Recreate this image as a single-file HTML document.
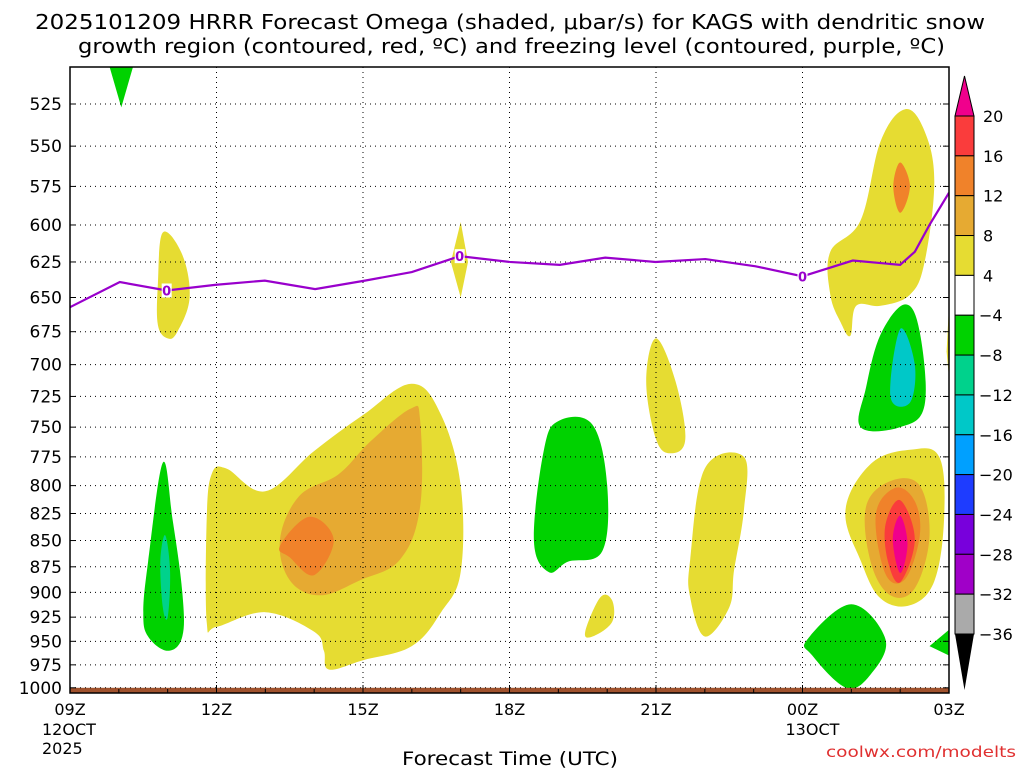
<!DOCTYPE html>
<html><head><meta charset="utf-8"><style>
body{margin:0;background:#fff;}
svg{display:block;font-family:"DejaVu Sans","Liberation Sans",sans-serif;}
</style></head><body>
<svg id="c" width="1024" height="768" xmlns="http://www.w3.org/2000/svg">
<text x="35" y="29" font-size="20" textLength="950" lengthAdjust="spacingAndGlyphs">2025101209 HRRR Forecast Omega (shaded, μbar/s) for KAGS with dendritic snow</text>
<text x="78" y="53" font-size="20" textLength="867" lengthAdjust="spacingAndGlyphs">growth region (contoured, red, ºC) and freezing level (contoured, purple, ºC)</text>
<g id="shade"></g>
<g id="grid"></g>
<g id="frz"></g>
<g id="axes"></g>
<g id="cbar"></g>
<text x="402" y="765" font-size="19" textLength="216" lengthAdjust="spacingAndGlyphs">Forecast Time (UTC)</text>
<text x="826" y="757" font-size="15" fill="#e03030" textLength="190" lengthAdjust="spacingAndGlyphs">coolwx.com/modelts</text>
</svg>
<script>
const pLevels=[525,550,575,600,625,650,675,700,725,750,775,800,825,850,875,900,925,950,975,1000];
const xTickHours=[9,12,15,18,21,24,27];
const xTickLabels=["09Z","12Z","15Z","18Z","21Z","00Z","03Z"];
const cbLevels=[20,16,12,8,4,-4,-8,-12,-16,-20,-24,-28,-32,-36];
const cbColors=["#fa3c3c","#f0822a","#e6aa32","#e6dc32","#ffffff","#00d200","#00d28c","#00c8c8","#00a0ff","#1e3cff","#7800dc","#a000c8","#aaaaaa"];
const Y="#e6dc32",G="#e6aa32",O="#f0822a",R="#fa3c3c",M="#f0008c",GR="#00d200",T="#00d28c",C="#00c8c8";
const polyColors=[GR,Y,Y,G,O,GR,T,Y,GR,Y,Y,Y,Y,O,GR,C,Y,G,O,R,M,GR,GR,Y];
const polySmooth=[0,1,1,1,1,1,1,0,1,1,1,1,1,1,1,1,1,1,1,1,1,1,0,0];
const polyData=[
[[9.8,503],[10.3,503],[10.05,527]],
[[10.8,640],[10.9,605],[11.3,620],[11.45,650],[11.2,675],[11.0,680],[10.8,670]],
[[11.8,930],[11.8,830],[11.9,790],[12.2,785],[13,805],[14,770],[15,740],[16.0,715],[16.6,740],[17.0,800],[17.0,880],[16.6,920],[16,955],[15,970],[14.3,980],[14.2,960],[14,940],[13.0,920],[12,935]],
[[13.3,849],[13.7,809],[14.5,790],[15.15,762],[15.97,735],[16.17,744],[16.17,819],[15.76,868],[14.94,888],[14.12,903],[13.5,888]],
[[13.3,855],[13.9,828],[14.4,849],[14.0,883],[13.5,866]],
[[10.5,920],[10.6,870],[10.9,780],[11.1,830],[11.3,900],[11.3,945],[11.0,960],[10.6,945]],
[[10.85,870],[10.95,845],[11.05,880],[11.0,925],[10.9,915]],
[[17.0,598],[17.15,625],[17.0,650],[16.8,625]],
[[18.5,850],[18.7,770],[19.0,745],[19.7,748],[20.0,800],[19.9,860],[19.2,870],[18.8,880]],
[[19.55,940],[19.86,905],[20.1,908],[20.1,930],[19.7,945]],
[[20.8,713],[21.0,680],[21.4,713],[21.6,760],[21.3,772],[21.0,760]],
[[21.7,905],[21.7,868],[22.0,785],[22.8,775],[22.8,822],[22.6,878],[22.5,915],[22.0,945]],
[[24.57,618],[25.19,597],[25.6,547],[26.1,528],[26.5,541],[26.7,572],[26.5,625],[26.2,648],[25.6,656],[25.1,656],[24.98,678],[24.78,668],[24.57,648]],
[[25.86,575],[26.0,560],[26.2,575],[26.0,592]],
[[25.19,750],[25.3,718],[25.6,677],[26.1,655],[26.4,675],[26.5,732],[26.0,750]],
[[25.8,725],[26.0,673],[26.3,700],[26.2,730]],
[[24.88,822],[25.4,781],[26.2,769],[26.8,775],[26.9,829],[26.7,889],[26.2,913],[25.6,906],[25.2,870]],
[[25.3,819],[25.8,796],[26.4,800],[26.6,846],[26.3,896],[25.8,903],[25.4,871]],
[[25.5,826],[25.9,802],[26.3,814],[26.4,846],[26.1,887],[25.7,882]],
[[25.7,835],[26.0,813],[26.3,849],[26.0,890],[25.75,870]],
[[25.85,849],[26.0,827],[26.15,853],[26.0,881]],
[[24.1,948],[25.0,912],[25.7,948],[25.4,985],[24.9,1000],[24.2,965]],
[[26.6,955],[27,938],[27,965]],
[[26.95,690],[27,656],[27,710]]
];
const frzHours=[9,10.02,10.98,11.97,12.99,14.02,15.04,16.0,16.98,18.0,19.03,19.96,20.99,22.01,23.04,24.0,25.03,26.0,26.3,26.6,27.0];
const frzP=[657,639,645,641,638,644,638,632,621,625,627,622,625,623,628,635,624,627,618,600,579];
const frzLabelIdx=[2,8,15];
const X0=70,X1=949,TOP=67,BOT=693;
function xs(h){return X0+(h-9)*(X1-X0)/18;}
function ys(p){return 104+906*Math.log(p/525);}
const NS="http://www.w3.org/2000/svg";
function mk(t,a,parent){const e=document.createElementNS(NS,t);for(const k in a)e.setAttribute(k,a[k]);parent.appendChild(e);return e;}
function smoothPath(pts){
  const n=pts.length;let d='M'+pts[0][0].toFixed(1)+','+pts[0][1].toFixed(1);
  const k=0.18;
  for(let i=0;i<n;i++){
    const p0=pts[(i-1+n)%n],p1=pts[i],p2=pts[(i+1)%n],p3=pts[(i+2)%n];
    const c1x=p1[0]+(p2[0]-p0[0])*k,c1y=p1[1]+(p2[1]-p0[1])*k;
    const c2x=p2[0]-(p3[0]-p1[0])*k,c2y=p2[1]-(p3[1]-p1[1])*k;
    d+=` C${c1x.toFixed(1)},${c1y.toFixed(1)} ${c2x.toFixed(1)},${c2y.toFixed(1)} ${p2[0].toFixed(1)},${p2[1].toFixed(1)}`;
  }
  return d+'Z';
}
const svg=document.getElementById('c');
const cp=mk('clipPath',{id:'clip'},svg);mk('rect',{x:X0,y:TOP,width:X1-X0,height:BOT-TOP},cp);
const shade=document.getElementById('shade');shade.setAttribute('clip-path','url(#clip)');
polyData.forEach((poly,i)=>{
  const pts=poly.map(q=>[xs(q[0]),ys(q[1])]);
  const d=polySmooth[i]?smoothPath(pts):'M'+pts.map(p=>p[0].toFixed(1)+','+p[1].toFixed(1)).join(' L')+'Z';
  const e=mk('path',{d:d,fill:polyColors[i]},shade);
  
  
});
const g=mk('rect',{x:X0,y:ys(1000),width:X1-X0,height:BOT-ys(1000),fill:'#a0522d'},shade);


const grid=document.getElementById('grid');
pLevels.forEach(p=>{mk('line',{x1:X0,x2:X1,y1:ys(p),y2:ys(p),stroke:'#000','stroke-width':1,'stroke-dasharray':'1 4'},grid);});
xTickHours.slice(1,-1).forEach(h=>{mk('line',{x1:xs(h),x2:xs(h),y1:TOP,y2:BOT,stroke:'#000','stroke-width':1,'stroke-dasharray':'1 4'},grid);});
const frz=document.getElementById('frz');frz.setAttribute('clip-path','url(#clip)');
const fl=mk('polyline',{points:frzHours.map((h,i)=>xs(h)+','+ys(frzP[i])).join(' '),fill:'none',stroke:'#9900cc','stroke-width':2.2},frz);


frzLabelIdx.forEach(i=>{
  mk('rect',{x:xs(frzHours[i])-5,y:ys(frzP[i])-7,width:10,height:14,fill:'#fff'},frz);
  const t=mk('text',{x:xs(frzHours[i]),y:ys(frzP[i])+5,'font-size':13,'font-weight':'bold',fill:'#9900cc','text-anchor':'middle'},frz);
  t.textContent='0';
  
  
});
const ax=document.getElementById('axes');
mk('rect',{x:X0,y:TOP,width:X1-X0,height:BOT-TOP,fill:'none',stroke:'#000','stroke-width':1.5},ax);
pLevels.forEach(p=>{
  mk('line',{x1:X0,x2:X0+6,y1:ys(p),y2:ys(p),stroke:'#000'},ax);
  mk('line',{x1:X1-6,x2:X1,y1:ys(p),y2:ys(p),stroke:'#000'},ax);
  const t=mk('text',{x:62,y:ys(p)+6,'font-size':17,'text-anchor':'end'},ax);t.textContent=p;
  
  
});
for(let h=9;h<=27;h++){mk('line',{x1:xs(h),x2:xs(h),y1:BOT-(h%3?4:8),y2:BOT,stroke:'#000'},ax);}
xTickHours.forEach((h,i)=>{
  const t=mk('text',{x:xs(h),y:715,'font-size':16,'text-anchor':'middle'},ax);t.textContent=xTickLabels[i];
  
  
});
[["12OCT",X0-28,735],["2025",X0-28,754],["13OCT",xs(24)-17,735]].forEach(a=>{
  const t=mk('text',{x:a[1],y:a[2],'font-size':16},ax);t.textContent=a[0];
  
  
});
const cb=document.getElementById('cbar');
const CX=955,CW=19,cb0=116,cbStep=(634-116)/13;
mk('polygon',{points:`${CX},${cb0} ${CX+CW},${cb0} ${CX+CW/2},76`,fill:M,stroke:'#000'},cb);
cbColors.forEach((c,i)=>{mk('rect',{x:CX,y:cb0+i*cbStep,width:CW,height:cbStep,fill:c,stroke:'#000'},cb);});
mk('polygon',{points:`${CX},634 ${CX+CW},634 ${CX+CW/2},690`,fill:'#000'},cb);
cbLevels.forEach((v,i)=>{
  const t=mk('text',{x:v<0?979:983,y:cb0+i*cbStep+6,'font-size':16},cb);t.textContent=v<0?'−'+(-v):v;
  
  
});
</script>
</body></html>
